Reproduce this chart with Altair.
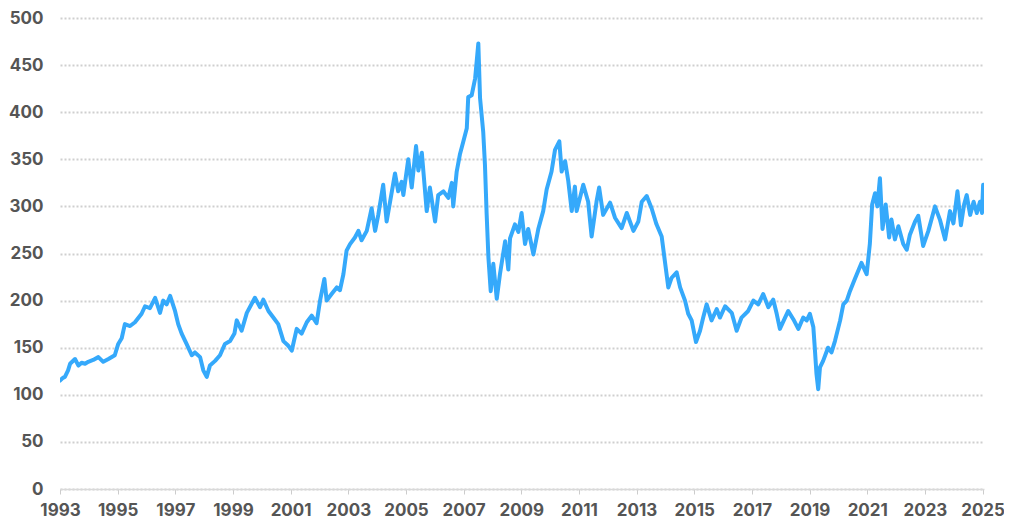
import altair as alt
import pandas as pd

years = [
    1993.00, 1993.10, 1993.17, 1993.28, 1993.35, 1993.52, 1993.64, 1993.75, 1993.87, 1993.98,
    1994.15, 1994.33, 1994.50, 1994.68, 1994.90, 1995.02, 1995.14, 1995.25, 1995.43, 1995.60,
    1995.83, 1995.95, 1996.12, 1996.30, 1996.47, 1996.58, 1996.70, 1996.82, 1996.99, 1997.10,
    1997.22, 1997.39, 1997.57, 1997.68, 1997.86, 1997.97, 1998.09, 1998.20, 1998.38, 1998.55,
    1998.72, 1998.90, 1999.05, 1999.13, 1999.30, 1999.48, 1999.76, 1999.94, 2000.05, 2000.23,
    2000.40, 2000.57, 2000.75, 2000.92, 2001.04, 2001.21, 2001.38, 2001.56, 2001.73, 2001.90,
    2002.02, 2002.17, 2002.25, 2002.42, 2002.60, 2002.71, 2002.83, 2002.94, 2003.06, 2003.23,
    2003.35, 2003.46, 2003.64, 2003.81, 2003.93, 2004.04, 2004.21, 2004.33, 2004.45, 2004.62,
    2004.73, 2004.85, 2004.91, 2005.08, 2005.20, 2005.35, 2005.43, 2005.55, 2005.72, 2005.83,
    2006.01, 2006.12, 2006.30, 2006.47, 2006.59, 2006.64, 2006.76, 2006.87, 2006.99, 2007.11,
    2007.16, 2007.28, 2007.40, 2007.51, 2007.57, 2007.68, 2007.74, 2007.80, 2007.86, 2007.94,
    2008.03, 2008.15, 2008.26, 2008.44, 2008.55, 2008.61, 2008.78, 2008.90, 2009.01, 2009.13,
    2009.24, 2009.42, 2009.59, 2009.76, 2009.88, 2010.05, 2010.17, 2010.32, 2010.40, 2010.52,
    2010.63, 2010.75, 2010.86, 2010.92, 2011.15, 2011.32, 2011.44, 2011.61, 2011.70, 2011.84,
    2012.08, 2012.25, 2012.48, 2012.66, 2012.89, 2013.06, 2013.18, 2013.35, 2013.52, 2013.69,
    2013.87, 2013.98, 2014.10, 2014.21, 2014.39, 2014.51, 2014.68, 2014.79, 2014.91, 2015.06,
    2015.20, 2015.31, 2015.43, 2015.60, 2015.78, 2015.89, 2016.07, 2016.30, 2016.47, 2016.64,
    2016.87, 2017.05, 2017.22, 2017.39, 2017.57, 2017.74, 2017.86, 2017.97, 2018.15, 2018.26,
    2018.44, 2018.61, 2018.78, 2018.90, 2019.01, 2019.13, 2019.18, 2019.24, 2019.30, 2019.36,
    2019.47, 2019.64, 2019.76, 2019.88, 2020.06, 2020.17, 2020.29, 2020.40, 2020.57, 2020.80,
    2020.98, 2021.09, 2021.17, 2021.27, 2021.35, 2021.44, 2021.53, 2021.64, 2021.76, 2021.84,
    2021.96, 2022.08, 2022.25, 2022.37, 2022.48, 2022.66, 2022.77, 2022.94, 2023.12, 2023.35,
    2023.52, 2023.70, 2023.87, 2023.99, 2024.13, 2024.25, 2024.36, 2024.45, 2024.57, 2024.69,
    2024.80, 2024.91, 2024.98, 2025.02,
]

values = [
    115, 118, 119, 126, 133, 138, 131, 134, 133, 135,
    137, 140, 135, 138, 142, 154, 160, 175, 173, 177,
    186, 194, 192, 203, 187, 200, 196, 205, 189, 175,
    165, 154, 142, 145, 140, 126, 119, 131, 136, 142,
    154, 157, 165, 179, 168, 187, 203, 193, 201, 189,
    182, 175, 157, 152, 147, 170, 165, 177, 184, 176,
    200, 223, 200, 207, 214, 211, 228, 253, 260, 267,
    274, 264, 274, 298, 274, 291, 323, 284, 305, 335,
    316, 326, 312, 350, 320, 364, 338, 357, 295, 320,
    284, 312, 316, 309, 325, 300, 337, 355, 369, 383,
    416, 418, 436, 473, 415, 379, 344, 291, 246, 210,
    239, 202, 228, 263, 233, 266, 281, 273, 293, 260,
    276, 249, 276, 295, 318, 337, 360, 369, 337, 348,
    327, 295, 321, 295, 323, 305, 268, 305, 320, 291,
    304, 288, 277, 293, 274, 284, 305, 311, 298, 281,
    268, 242, 214, 224, 230, 214, 200, 186, 179, 156,
    168, 182, 196, 179, 191, 182, 194, 187, 168, 182,
    189, 200, 196, 207, 193, 201, 186, 170, 182, 189,
    180, 170, 182, 179, 186, 172, 150, 122, 106, 129,
    136, 150, 145, 157, 179, 196, 200, 210, 223, 240,
    228, 260, 302, 314, 300, 330, 276, 302, 267, 286,
    265, 279, 260, 254, 270, 284, 290, 258, 274, 300,
    286, 265, 295, 282, 316, 280, 302, 312, 291, 305,
    293, 305, 293, 323,
]

x_ticks = list(range(1993, 2026, 2))
y_ticks = list(range(0, 501, 50))

df = pd.DataFrame({"year": years, "value": values})

font = "Inter"
label_color = "#555555"

chart = (
    alt.Chart(df)
    .mark_line(color="#35A9FB", strokeWidth=4, strokeJoin="round", strokeCap="round", clip=True)
    .encode(
        x=alt.X(
            "year:Q",
            scale=alt.Scale(domain=[1993, 2025.05], nice=False, zero=False),
            axis=alt.Axis(
                values=x_ticks,
                format="d",
                title=None,
                grid=False,
                domain=True,
                domainColor="#d9d9d9",
                domainWidth=1.5,
                ticks=True,
                tickColor="#cccccc",
                tickSize=5,
                labelFont=font,
                labelFontSize=17,
                labelFontWeight="bold",
                labelColor=label_color,
                labelPadding=8,
                labelFlush=False,
            ),
        ),
        y=alt.Y(
            "value:Q",
            scale=alt.Scale(domain=[0, 500], nice=False),
            axis=alt.Axis(
                values=y_ticks,
                title=None,
                grid=True,
                gridColor="#cfcfcf",
                gridDash=[2, 2],
                gridWidth=2,
                domain=False,
                ticks=False,
                labelFont=font,
                labelFontSize=17,
                labelFontWeight="bold",
                labelColor=label_color,
                labelPadding=17,
            ),
        ),
    )
    .properties(
        width=924,
        height=471,
        autosize=alt.AutoSizeParams(type="none"),
        padding={"left": 52, "top": 10, "right": 20, "bottom": 30},
    )
    .configure_view(stroke=None)
)

chart.save("out.html", embed_options={"renderer": "svg", "actions": False})
